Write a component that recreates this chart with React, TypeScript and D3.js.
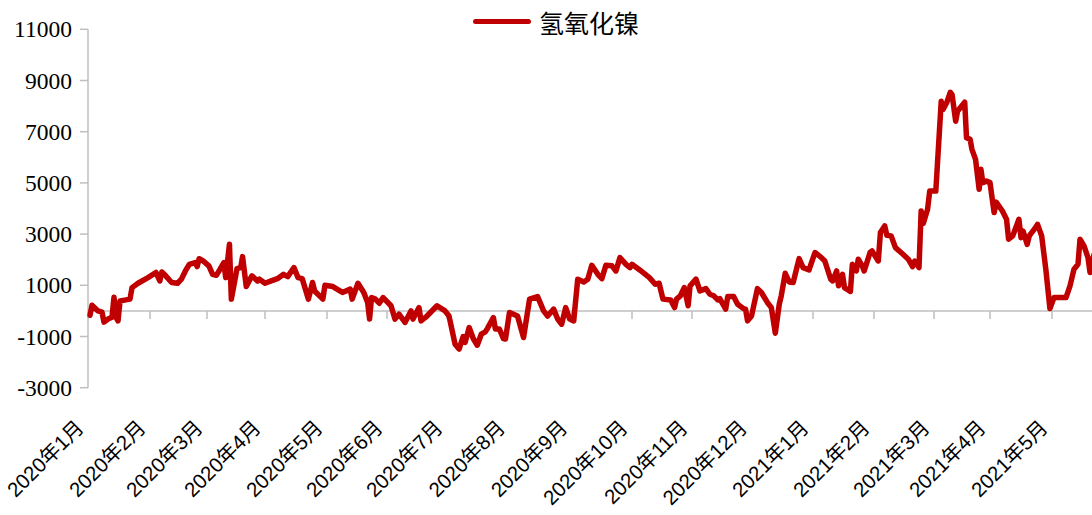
import React from 'react';
import * as d3 from 'd3';

// ---------- data ----------
const seriesName = '氢氧化镍';
const yTicks = [-3000, -1000, 1000, 3000, 5000, 7000, 9000, 11000];
const monthLabels = [
  '2020年1月', '2020年2月', '2020年3月', '2020年4月', '2020年5月', '2020年6月',
  '2020年7月', '2020年8月', '2020年9月', '2020年10月', '2020年11月', '2020年12月',
  '2021年1月', '2021年2月', '2021年3月', '2021年4月', '2021年5月',
];
const monthStarts = [
  '2020-01-01', '2020-02-01', '2020-03-01', '2020-04-01', '2020-05-01', '2020-06-01',
  '2020-07-01', '2020-08-01', '2020-09-01', '2020-10-01', '2020-11-01', '2020-12-01',
  '2021-01-01', '2021-02-01', '2021-03-01', '2021-04-01', '2021-05-01',
];

const dates2020 = [
  '2020-01-02', '2020-01-03', '2020-01-06', '2020-01-08', '2020-01-09', '2020-01-11', '2020-01-13', '2020-01-14',
  '2020-01-15', '2020-01-16', '2020-01-17', '2020-01-20', '2020-01-22', '2020-01-23', '2020-01-26', '2020-01-31',
  '2020-02-04', '2020-02-06', '2020-02-07', '2020-02-09', '2020-02-12', '2020-02-15', '2020-02-17', '2020-02-19',
  '2020-02-21', '2020-02-24', '2020-02-25', '2020-02-26', '2020-02-28',
  '2020-03-02', '2020-03-04', '2020-03-06', '2020-03-08', '2020-03-10', '2020-03-11', '2020-03-13', '2020-03-14',
  '2020-03-16', '2020-03-17', '2020-03-19', '2020-03-20', '2020-03-22', '2020-03-25', '2020-03-28', '2020-03-29',
  '2020-04-01', '2020-04-04', '2020-04-07', '2020-04-10', '2020-04-12', '2020-04-15', '2020-04-17', '2020-04-19',
  '2020-04-22', '2020-04-24', '2020-04-25', '2020-04-29', '2020-04-30',
  '2020-05-04', '2020-05-09', '2020-05-13', '2020-05-14', '2020-05-17', '2020-05-20', '2020-05-22', '2020-05-23',
  '2020-05-24', '2020-05-26', '2020-05-28', '2020-05-30',
  '2020-06-03', '2020-06-05', '2020-06-07', '2020-06-10', '2020-06-13', '2020-06-14', '2020-06-17', '2020-06-18',
  '2020-06-21', '2020-06-26', '2020-06-30',
  '2020-07-02', '2020-07-05', '2020-07-07', '2020-07-09', '2020-07-10', '2020-07-12', '2020-07-14', '2020-07-16',
  '2020-07-18', '2020-07-20', '2020-07-21', '2020-07-24', '2020-07-25', '2020-07-27', '2020-07-29', '2020-07-30',
  '2020-08-01', '2020-08-05', '2020-08-08', '2020-08-11', '2020-08-15', '2020-08-18', '2020-08-20', '2020-08-23',
  '2020-08-25', '2020-08-27', '2020-08-29', '2020-08-31',
  '2020-09-02', '2020-09-04', '2020-09-07', '2020-09-09', '2020-09-11', '2020-09-14', '2020-09-16', '2020-09-18',
  '2020-09-21', '2020-09-23', '2020-09-25', '2020-09-28', '2020-09-30',
  '2020-10-01', '2020-10-05', '2020-10-10', '2020-10-13', '2020-10-15', '2020-10-17', '2020-10-21', '2020-10-23',
  '2020-10-24', '2020-10-26', '2020-10-28', '2020-10-30', '2020-10-31',
  '2020-11-03', '2020-11-05', '2020-11-08', '2020-11-10', '2020-11-12', '2020-11-14', '2020-11-15', '2020-11-18',
  '2020-11-19', '2020-11-22', '2020-11-24', '2020-11-27', '2020-11-28', '2020-11-29',
  '2020-12-01', '2020-12-04', '2020-12-06', '2020-12-09', '2020-12-11', '2020-12-13', '2020-12-15', '2020-12-16',
  '2020-12-18', '2020-12-20', '2020-12-22', '2020-12-25', '2020-12-27', '2020-12-30',
];
const values2020 = [
  -170, 220, 0, -50, -440, -320, -250, 530,
  -250, -390, 390, 430, 460, 910, 1080, 1300,
  1500, 1170, 1520, 1370, 1110, 1080, 1240, 1560,
  1820, 1890, 1730, 2040, 1950,
  1760, 1430, 1390, 1630, 1890, 1300, 2600, 460,
  1240, 1650, 1690, 2120, 950, 1370, 1170, 1240,
  1080, 1170, 1260, 1430, 1340, 1690, 1300, 1260,
  460, 1110, 780, 460, 1000,
  950, 720, 850, 460, 1080, 720, 330, -320,
  520, 460, 300, 520,
  200, -320, -130, -450, 0, -320, 130, -390,
  -200, 200, 0,
  -200, -1300, -1490, -1000, -1230, -650, -1080, -1340,
  -910, -820, -690, -260, -710, -710, -1080, -1100,
  -60, -200, -1040, 460, 560, 0, -200, 70,
  -320, -520, 130, -320,
  -390, 1240, 1130, 1240, 1780, 1430, 1260, 1780,
  1760, 1560, 2080, 1820, 1690,
  1820, 1600, 1300, 1040, 1080, 460, 430, 130,
  460, 590, 910, 200, 980,
  1240, 780, 870, 650, 590, 430, 480, 70,
  560, 560, 260, 90, 70, -390,
  -200, 870, 720, 330, 130, -870, 260, 590,
  1470, 1130, 1110, 2040, 1690, 1600,
];

const dates2021 = [
  '2021-01-02', '2021-01-05', '2021-01-07', '2021-01-10', '2021-01-11', '2021-01-13', '2021-01-14', '2021-01-16',
  '2021-01-17', '2021-01-20', '2021-01-21', '2021-01-23', '2021-01-24', '2021-01-26', '2021-01-27', '2021-01-30',
  '2021-01-31',
  '2021-02-03', '2021-02-04', '2021-02-06', '2021-02-07', '2021-02-09', '2021-02-11', '2021-02-14', '2021-02-17',
  '2021-02-19', '2021-02-20', '2021-02-22', '2021-02-23', '2021-02-24', '2021-02-26', '2021-02-27',
  '2021-03-02', '2021-03-05', '2021-03-06', '2021-03-08', '2021-03-10', '2021-03-11', '2021-03-13', '2021-03-14',
  '2021-03-18', '2021-03-19', '2021-03-21', '2021-03-22', '2021-03-24', '2021-03-26', '2021-03-27', '2021-03-28',
  '2021-03-30',
  '2021-04-01', '2021-04-03', '2021-04-04', '2021-04-07', '2021-04-09', '2021-04-10', '2021-04-12', '2021-04-15',
  '2021-04-16', '2021-04-17', '2021-04-19', '2021-04-20', '2021-04-23', '2021-04-24', '2021-04-26', '2021-04-28',
  '2021-04-30',
  '2021-05-02', '2021-05-08', '2021-05-10', '2021-05-12', '2021-05-14', '2021-05-15', '2021-05-17', '2021-05-19',
  '2021-05-20', '2021-05-22',
];
const values2021 = [
  2280, 2100, 1950, 1240, 1170, 1560, 980, 1430,
  910, 760, 1820, 1560, 2020, 1760, 1560, 2280,
  2340,
  1950, 3060, 3320, 2950, 2930, 2470, 2250, 2020,
  1730, 1950, 1690, 3900, 3420, 3970, 4680,
  4680, 8190, 7870, 8130, 8540, 8450, 7410, 7800,
  8150, 6760, 6700, 6310, 5920, 4750, 5530, 5010,
  5070,
  5010, 3840, 4250, 3900, 3580, 2800, 2930, 3580,
  2860, 3120, 2600, 2930, 3250, 3380, 2930, 1630,
  90,
  520, 520, 980, 1630, 1820, 2800, 2540, 2080,
  1500, 2200,
];

// ---------- layout ----------
const W = 1092;
const H = 515;
const plotTop = 29.3;
const plotBottom = 387.7;
const axisLeft = 88;
// pixel positions of the month boundaries on the date axis
const monthPx = [88, 150, 207, 265, 327, 387, 447, 509.5, 571.7, 632, 692, 751.5, 813, 874, 934, 990, 1052, 1114];
const RED = '#C00000';
const AXIS = '#BFBFBF';

export default function App() {
  const parse = d3.timeParse('%Y-%m-%d');
  const starts = monthStarts.map((s) => parse(s) as Date);
  const domain = [...starts, d3.timeMonth.offset(starts[starts.length - 1], 1)];
  const x = d3.scaleTime().domain(domain).range(monthPx);
  const y = d3.scaleLinear().domain([-3000, 11000]).range([plotBottom, plotTop]);

  const data: [Date, number][] = [
    ...dates2020.map((d, i) => [parse(d) as Date, values2020[i]] as [Date, number]),
    ...dates2021.map((d, i) => [parse(d) as Date, values2021[i]] as [Date, number]),
  ];
  const line = d3
    .line<[Date, number]>()
    .x((d) => x(d[0]))
    .y((d) => y(d[1]))
    .curve(d3.curveLinear);

  const y0 = y(0);
  const serif = '"Liberation Serif", "Times New Roman", serif';
  const sans = '"Liberation Sans", Arial, "Noto Sans CJK SC", sans-serif';
  const cjk = '"Noto Sans CJK SC", sans-serif';

  return (
    <div style={{ position: 'absolute', left: 0, top: 0, width: W, height: H, overflow: 'hidden', background: '#fff' }}>
      <svg width={W} height={H} style={{ display: 'block' }}>
        <rect x={0} y={0} width={W} height={H} fill="#fff" />
        {/* y axis */}
        <line x1={axisLeft} x2={axisLeft} y1={plotTop} y2={plotBottom} stroke={AXIS} strokeWidth={1.5} />
        {yTicks.map((t) => (
          <g key={t}>
            <line x1={axisLeft - 8} x2={axisLeft} y1={y(t)} y2={y(t)} stroke={AXIS} strokeWidth={1.5} />
            <text
              x={axisLeft - 16}
              y={y(t)}
              textAnchor="end"
              dominantBaseline="central"
              fontFamily={serif}
              fontSize={23.5}
              fill="#000"
            >
              {t}
            </text>
          </g>
        ))}
        {/* x axis at zero */}
        <line x1={axisLeft} x2={W} y1={y0} y2={y0} stroke={AXIS} strokeWidth={1.5} />
        {starts.map((s, i) => (
          <line key={i} x1={x(s)} x2={x(s)} y1={y0} y2={y0 + 8} stroke={AXIS} strokeWidth={1.5} />
        ))}
        {starts.map((s, i) => (
          <text
            key={monthLabels[i]}
            transform={`translate(${x(s) - 3},${429}) rotate(-45)`}
            textAnchor="end"
            fontFamily={sans}
            fontSize={20.5}
            fill="#000"
          >
            {monthLabels[i]}
          </text>
        ))}
        {/* series */}
        <path d={line(data) || ''} fill="none" stroke={RED} strokeWidth={5.5} strokeLinejoin="round" strokeLinecap="round" />
        {/* legend */}
        <line x1={475.5} x2={528.5} y1={21.5} y2={21.5} stroke={RED} strokeWidth={5} strokeLinecap="round" />
        <text x={539} y={21.5} dominantBaseline="central" fontFamily={cjk} fontSize={25} fill="#000">
          {seriesName}
        </text>
      </svg>
    </div>
  );
}
